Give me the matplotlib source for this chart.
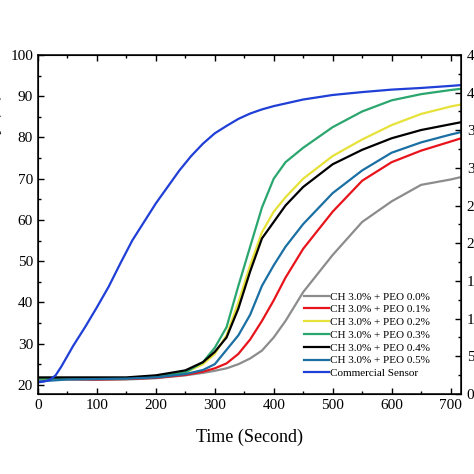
import matplotlib
matplotlib.use("Agg")
import matplotlib.pyplot as plt
from matplotlib.ticker import MultipleLocator

plt.rcParams['font.family'] = ['Liberation Serif', 'DejaVu Serif']

# time grid (s) for the film sensors
t = [0, 50, 100, 150, 200, 250, 280, 300, 320, 340, 360, 380, 400, 420,
     450, 500, 550, 600, 650, 700, 718]

peo_00 = [21.3, 21.3, 21.2, 21.3, 21.6, 22.3, 22.9, 23.4, 24.0, 25.0, 26.4,
          28.3, 31.5, 35.5, 42.5, 51.5, 59.5, 64.5, 68.5, 69.8, 70.4]
peo_01 = [21.4, 21.4, 21.3, 21.4, 21.7, 22.4, 23.2, 24.0, 25.2, 27.5, 31.0,
          35.5, 40.5, 46.0, 53.0, 62.0, 69.5, 74.0, 76.8, 79.0, 79.8]
peo_02 = [21.5, 21.5, 21.5, 21.6, 22.0, 23.0, 25.0, 27.5, 32.0, 40.0, 49.0,
          57.0, 62.0, 65.5, 70.0, 75.5, 79.5, 83.0, 85.7, 87.5, 88.0]
peo_03 = [21.5, 21.5, 21.5, 21.6, 22.0, 23.0, 25.5, 29.0, 34.0, 44.0, 53.5,
          63.0, 70.0, 74.0, 77.5, 82.5, 86.3, 89.0, 90.5, 91.5, 91.8]
peo_04 = [21.8, 21.8, 21.8, 21.8, 22.3, 23.5, 25.5, 28.0, 31.5, 38.5, 47.5,
          55.5, 59.5, 63.5, 68.0, 73.5, 77.0, 79.8, 81.8, 83.2, 83.7]
peo_05 = [20.8, 21.3, 21.4, 21.5, 21.8, 22.6, 23.6, 25.0, 28.5, 32.0, 37.0,
          44.0, 49.0, 53.5, 59.0, 66.5, 72.0, 76.3, 78.8, 80.7, 81.3]

t_com = [0, 10, 20, 30, 40, 60, 80, 100, 120, 140, 160, 180, 200, 220, 240,
         260, 280, 300, 320, 340, 360, 380, 400, 450, 500, 550, 600, 650,
         700, 718]
commercial = [20.6, 20.8, 21.2, 22.3, 24.5, 29.5, 34.0, 38.8, 43.8, 49.5,
              55.0, 59.5, 64.0, 68.0, 72.0, 75.5, 78.5, 81.0, 82.8, 84.5,
              85.8, 86.8, 87.6, 89.2, 90.3, 91.0, 91.6, 92.0, 92.5, 92.7]

labels = ['CH 3.0% + PEO 0.0%', 'CH 3.0% + PEO 0.1%', 'CH 3.0% + PEO 0.2%',
          'CH 3.0% + PEO 0.3%', 'CH 3.0% + PEO 0.4%', 'CH 3.0% + PEO 0.5%',
          'Commercial Sensor']
colors = ['#8c8c8c', '#e8141c', '#e6e23a', '#2aa66e', '#000000', '#1a6fa3',
          '#1f3fd6']

fig = plt.figure(figsize=(4.74, 4.74), dpi=100)
ax = fig.add_axes([0.080, 0.169, 0.893, 0.715])

series = [peo_00, peo_01, peo_02, peo_03, peo_04, peo_05]
for s, lab, c in zip(series, labels[:6], colors[:6]):
    ax.plot(t, s, color=c, lw=1.6, label=lab)
ax.plot(t_com, commercial, color=colors[6], lw=1.6, label=labels[6])

ax.set_xlim(0, 718)
ax.set_ylim(17.8, 100)
ax.xaxis.set_major_locator(MultipleLocator(100))
ax.xaxis.set_minor_locator(MultipleLocator(50))
ax.yaxis.set_major_locator(MultipleLocator(10))
ax.yaxis.set_minor_locator(MultipleLocator(5))
ax.tick_params(which='both', direction='in', top=True, right=False,
               labelsize=11, width=1)
ax.tick_params(which='major', length=4)
ax.tick_params(which='minor', length=2.5)
for sp in ax.spines.values():
    sp.set_linewidth(1.1)

ax.set_xlabel('Time (Second)', fontsize=13, labelpad=12)

# right axis (temperature), mostly cut off by the image edge
ax2 = ax.twinx()
ax2.set_ylim(0, 45)
ax2.yaxis.set_major_locator(MultipleLocator(5))
ax2.yaxis.set_minor_locator(MultipleLocator(2.5))
ax2.tick_params(which='both', direction='in', labelsize=11, width=1, pad=4)
ax2.tick_params(which='major', length=4)
ax2.tick_params(which='minor', length=2.5)

fig.text(-0.013, 0.804, 'Relative Humidity (%)', rotation=90, va='top',
         ha='center', fontsize=13)

ax.legend(loc='lower right', bbox_to_anchor=(0.94, 0.03), frameon=False,
          fontsize=8, handlelength=2.3, handletextpad=0.1,
          labelspacing=0.27, borderpad=0)

fig.savefig('out.png', dpi=100)
